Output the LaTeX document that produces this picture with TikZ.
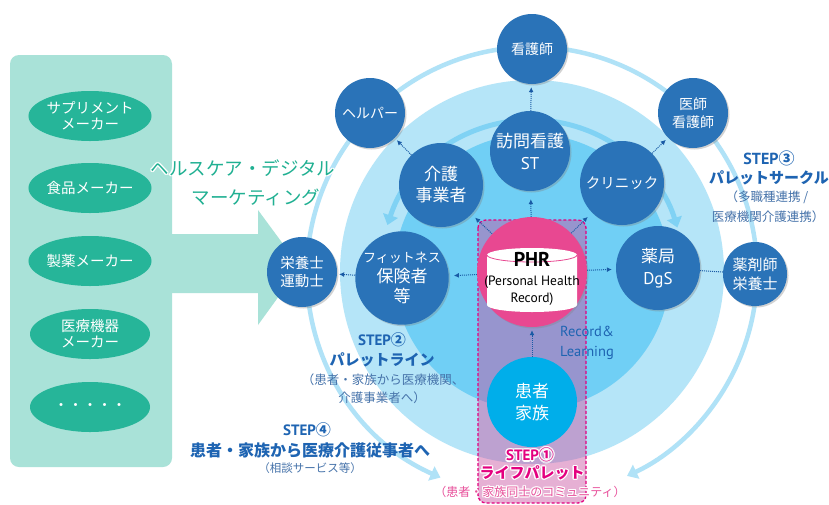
\documentclass[tikz,border=0pt]{standalone}
\usepackage{fontspec}
\setmainfont{Noto Sans CJK JP}
\newfontfamily\lat{PT Sans}
\usetikzlibrary{shapes.geometric,shadows,arrows.meta}

\definecolor{nodeblue}{RGB}{42,115,184}
\definecolor{arrowblue}{RGB}{25,90,165}
\definecolor{diskpale}{RGB}{181,229,248}
\definecolor{ringpale}{RGB}{176,226,247}
\definecolor{ringmid}{RGB}{128,210,244}
\definecolor{diskmid}{RGB}{112,207,245}
\definecolor{panelteal}{RGB}{169,226,216}
\definecolor{ovalteal}{RGB}{38,181,153}
\definecolor{textteal}{RGB}{32,176,146}
\definecolor{phrpink}{RGB}{232,72,145}
\definecolor{lifepink}{RGB}{200,80,160}
\definecolor{steppink}{RGB}{228,0,127}
\definecolor{parenpink}{RGB}{232,80,155}
\definecolor{stepblue}{RGB}{30,100,178}
\definecolor{parenblue}{RGB}{70,115,170}
\definecolor{kanjacyan}{RGB}{0,174,234}

\tikzset{
  person/.style={circle,fill=nodeblue,text=white,inner sep=0pt,align=center,
    drop shadow={opacity=0.35,shadow xshift=1.5pt,shadow yshift=-1.5pt}},
  maker/.style={ellipse,fill=ovalteal,text=white,minimum width=120pt,minimum height=50pt,
    inner sep=0pt,align=center,font=\fontsize{14.5}{16}\selectfont},
  link/.style={arrowblue,densely dotted,line width=1pt,-{Latex[length=5pt,width=5pt]},
    shorten >=3pt},
  ringarrow/.style={line width=#1,{Triangle[width=15pt,length=10pt]}-{Triangle[width=15pt,length=10pt]}},
  stepmain/.style={text=stepblue,inner sep=0pt,font=\bfseries\fontsize{15}{18}\selectfont},
  steppar/.style={text=parenblue,inner sep=0pt,font=\fontsize{12.5}{15}\selectfont},
  marketing/.style={text=textteal,inner sep=0pt,font=\fontsize{18.5}{22}\selectfont},
  lifemain/.style={text=steppink,inner sep=0pt,font=\bfseries\fontsize{15}{18}\selectfont},
  lifepar/.style={text=parenpink,inner sep=0pt,font=\fontsize{12}{15}\selectfont}
}

% text with a white outline
\newcommand\halonode[4]{%
  \foreach \hang in {0,45,...,315}
    \node[#2,text=white,shift={(\hang:1.3)}] at (#3) {#4};
  \node[#2] (#1) at (#3) {#4};}

\begin{document}
\begin{tikzpicture}[x=1pt,y=-1pt]
  \fill[white] (0,0) rectangle (829,504);
  \useasboundingbox (0,0) rectangle (829,504);

  % circles behind
  \fill[diskpale] (532,272) circle[radius=192];
  \draw[ringpale,ringarrow=4.5pt] (532,272) ++(114:225) arc[start angle=114,end angle=425,radius=225];
  \draw[ringmid,ringarrow=5pt] (532,272) ++(198:152) arc[start angle=198,end angle=343,radius=152];
  \fill[diskmid] (532,272) circle[radius=138];

  % makers
  \fill[panelteal,rounded corners=9pt] (10,55) rectangle (172,467);
  \fill[panelteal] (170,234) -- (258,234) -- (258,210) -- (300,267) -- (258,325) -- (258,293) -- (170,293) -- cycle;
  \node[maker] (supp) at (90,116) {サプリメント\\メーカー};
  \node[maker] (food) at (90,188) {食品メーカー};
  \node[maker] (pharma) at (90,261) {製薬メーカー};
  \node[maker] (device) at (90,334) {医療機器\\メーカー};
  \node[maker] (etc) at (90,407) {・・・・・};
  \halonode{mark1}{marketing}{243,168}{ヘルスケア・デジタル}
  \halonode{mark2}{marketing}{256,197}{マーケティング}

  % life palette
  \draw[steppink,densely dashed,line width=1.3pt,fill=lifepink,fill opacity=0.45,rounded corners=8pt]
    (478,220) rectangle (586,503);

  % people
  \node[person,minimum size=70pt,font=\fontsize{14}{17}\selectfont] (kangoshi) at (532,49) {看護師};
  \node[person,minimum size=80pt,font=\fontsize{17}{22}\selectfont] (houmon) at (530,151) {訪問看護\\{\lat ST}};
  \node[person,minimum size=70pt,font=\fontsize{14}{17}\selectfont] (helper) at (370,113) {ヘルパー};
  \node[person,minimum size=84pt,font=\fontsize{17}{21}\selectfont] (kaigo) at (441,185) {介護\\事業者};
  \node[person,minimum size=84pt,font=\fontsize{14.5}{17}\selectfont] (clinic) at (622,183) {クリニック};
  \node[person,minimum size=70pt,font=\fontsize{14}{18}\selectfont] (ishi) at (693,113) {医師\\看護師};
  \node[person,minimum size=84pt,font=\fontsize{17}{22}\selectfont] (yakkyoku) at (658,268) {薬局\\{\lat DgS}};
  \node[person,minimum size=64pt,font=\fontsize{15}{19}\selectfont] (yakuzai) at (755,274) {薬剤師\\栄養士};
  \node[person,minimum size=70pt,font=\fontsize{14.5}{18}\selectfont] (eiyou) at (302,272) {栄養士\\運動士};
  \node[person,minimum size=84pt,font=\fontsize{17}{20}\selectfont] (fitness) at (402,278)
    {{\fontsize{13}{16}\selectfont フィットネス}\\保険者\\等};

  % PHR
  \node[circle,fill=phrpink,minimum size=110pt,
    drop shadow={opacity=0.3,shadow xshift=1.5pt,shadow yshift=-1.5pt}] (phr) at (532,272) {};
  \fill[white] (487,255) -- (487,305) arc[start angle=180,end angle=0,x radius=45,y radius=7]
    -- (577,255) arc[start angle=0,end angle=-180,x radius=45,y radius=7] -- cycle;
  \draw[phrpink,line width=0.8pt] (487,255) arc[start angle=180,end angle=0,x radius=45,y radius=7];
  \node[font=\lat\bfseries\fontsize{20}{24}\selectfont,inner sep=0pt] (phrtitle) at (532,259) {PHR};
  \node[font=\lat\fontsize{13.5}{17}\selectfont,inner sep=0pt,align=center] (phrsub) at (532,291)
    {(Personal Health\\Record)};
  \node[circle,fill=kanjacyan,text=white,minimum size=90pt,align=center,
    font=\fontsize{17}{22}\selectfont] (kanja) at (532,402) {患者\\家族};

  % links
  \draw[link,shorten >=8pt] (phr) -- (houmon);
  \draw[link,shorten >=5pt] (phr) -- (kaigo);
  \draw[link,shorten >=6pt] (phr) -- (clinic);
  \draw[link,shorten >=5pt] (phr) -- (fitness);
  \draw[link,shorten >=4pt] (phr) -- (yakkyoku);
  \draw[link] (kanja) -- (phr);
  \draw[link] (houmon) -- (kangoshi);
  \draw[link] (kaigo) -- (helper);
  \draw[link] (clinic) -- (ishi);
  \draw[link,shorten >=2pt] (fitness) -- (eiyou);
  \draw[link,-,shorten >=0pt] (yakkyoku) -- (yakuzai);

  \node[text=stepblue,font=\lat\fontsize{14.5}{20}\selectfont,align=center,inner sep=0pt]
    (record) at (587,343) {Record\&\\Learning};

  % steps
  \node[stepmain,font=\bfseries\fontsize{16}{18}\selectfont] (step3a) at (769,158) {{\lat STEP}③};
  \node[stepmain] (step3b) at (769,178) {パレットサークル};
  \node[steppar] (step3c) at (767,197) {（多職種連携 /};
  \node[steppar] (step3d) at (768,217) {医療機関介護連携）};

  \node[stepmain] (step2a) at (382,340) {{\lat STEP}②};
  \node[stepmain] (step2b) at (382,360) {パレットライン};
  \node[steppar] (step2c) at (383,380) {（患者・家族から医療機関、};
  \node[steppar] (step2d) at (382,398) {介護事業者へ）};

  \node[stepmain] (step4a) at (307,430) {{\lat STEP}④};
  \node[stepmain,font=\bfseries\fontsize{16}{18}\selectfont] (step4b) at (310,450) {患者・家族から医療介護従事者へ};
  \node[steppar,font=\fontsize{11.5}{14}\selectfont] (step4c) at (310,468) {（相談サービス等）};

  \halonode{step1a}{lifemain}{530,455}{{\lat STEP}①}
  \halonode{step1b}{lifemain}{532,473}{ライフパレット}
  \halonode{step1c}{lifepar}{530,492}{（患者・家族同士のコミュニティ）}
\end{tikzpicture}
\end{document}
